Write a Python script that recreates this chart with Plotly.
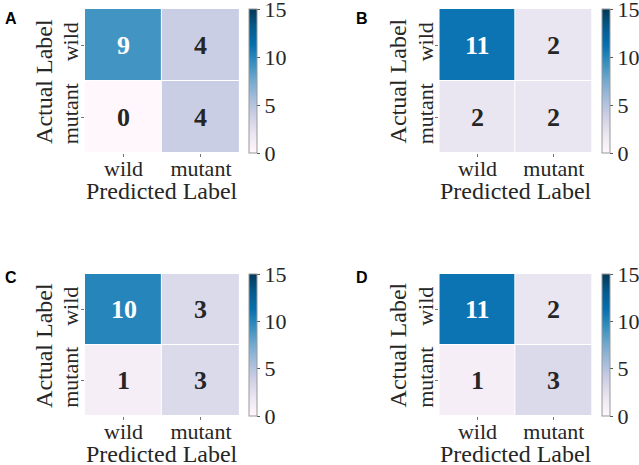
import plotly.graph_objects as go

W, H = 639, 465

panel_letters = ["A", "B", "C", "D"]
pred_labels = ["wild", "mutant"]
actual_labels = ["wild", "mutant"]
# rows: actual wild, actual mutant ; cols: predicted wild, predicted mutant
cm_A = [[9, 4], [0, 4]]
cm_B = [[11, 2], [2, 2]]
cm_C = [[10, 3], [1, 3]]
cm_D = [[11, 2], [1, 3]]
matrices = [cm_A, cm_B, cm_C, cm_D]
cbar_ticks = [0, 5, 10, 15]

# layout geometry in pixels: (left, right, top, bottom) of each heatmap
boxes = [(85, 240, 9, 153), (440, 593, 9, 153), (85, 240, 274, 416), (440, 593, 274, 416)]
label_pos = [(3, 18.5), (355, 18.5), (3, 277), (355, 277)]

SERIF = "Liberation Serif, Times New Roman, serif"
SANS = "Liberation Sans, Arial, sans-serif"
DARK = "#262626"

def px(x):
    return x / W

def py(y):
    return 1 - y / H

fig = go.Figure()
annotations = []
layout = {}

for i, (cm, box, letter, lp) in enumerate(zip(matrices, boxes, panel_letters, label_pos)):
    L, R, T, B = box
    n = i + 1
    xa = "x" if n == 1 else f"x{n}"
    ya = "y" if n == 1 else f"y{n}"
    xkey = "xaxis" if n == 1 else f"xaxis{n}"
    ykey = "yaxis" if n == 1 else f"yaxis{n}"
    fig.add_trace(go.Heatmap(
        z=cm, x=pred_labels, y=actual_labels,
        xaxis=xa, yaxis=ya,
        colorscale="PuBu", zmin=0, zmax=15,
        xgap=1, ygap=1,
        hoverinfo="skip",
        colorbar=dict(
            x=px(R + 9), xanchor="left", xpad=0,
            y=py((T + B) / 2), yanchor="middle", ypad=0,
            len=(B - T) / H, lenmode="fraction",
            thickness=8,
            outlinewidth=1, outlinecolor="#999999",
            tickvals=cbar_ticks, ticks="outside", ticklen=3,
            tickcolor="#555555", tickwidth=1,
            ticklabeloverflow="allow",
            tickfont=dict(family=SERIF, size=22, color=DARK),
        ),
    ))
    layout[xkey] = dict(
        domain=[px(L), px(R)], anchor=ya,
        showgrid=False, zeroline=False, showline=False,
        ticks="outside", ticklen=3, tickwidth=1, tickcolor="#777777",
        ticklabelstandoff=-7,
        tickfont=dict(family=SERIF, size=22, color=DARK),
        fixedrange=True,
    )
    layout[ykey] = dict(
        domain=[py(B), py(T)], anchor=xa,
        autorange="reversed",
        showgrid=False, zeroline=False, showline=False,
        ticks="outside", ticklen=3, tickwidth=1, tickcolor="#777777",
        tickangle=-90,
        ticklabelstandoff=-6,
        tickfont=dict(family=SERIF, size=22, color=DARK),
        fixedrange=True,
    )
    # cell values
    for r, alab in enumerate(actual_labels):
        for c, plab in enumerate(pred_labels):
            v = cm[r][c]
            annotations.append(dict(
                x=plab, y=alab, xref=xa, yref=ya, text=f"<b>{v}</b>",
                showarrow=False,
                font=dict(family=SERIF, size=26, color="white" if v > 7.5 else DARK),
            ))
    # axis titles
    annotations.append(dict(
        x=px((L + R) / 2), y=py(B + 38), xref="paper", yref="paper",
        text="Predicted Label", showarrow=False, xanchor="center", yanchor="middle",
        font=dict(family=SERIF, size=24, color=DARK),
    ))
    annotations.append(dict(
        x=px(L - 41), y=py((T + B) / 2), xref="paper", yref="paper",
        text="Actual Label", showarrow=False, xanchor="center", yanchor="middle",
        textangle=-90,
        font=dict(family=SERIF, size=24, color=DARK),
    ))
    # panel letter
    annotations.append(dict(
        x=px(lp[0]), y=py(lp[1]), xref="paper", yref="paper",
        text=f"<b>{letter}</b>", showarrow=False, xanchor="left", yanchor="middle",
        font=dict(family=SANS, size=16, color="black"),
    ))

fig.update_layout(
    width=W, height=H,
    margin=dict(l=0, r=0, t=0, b=0),
    paper_bgcolor="white", plot_bgcolor="white",
    showlegend=False,
    annotations=annotations,
    **layout,
)

fig.write_html("out.html", config={"displayModeBar": False},
               post_script="document.body.style.margin='0';")
